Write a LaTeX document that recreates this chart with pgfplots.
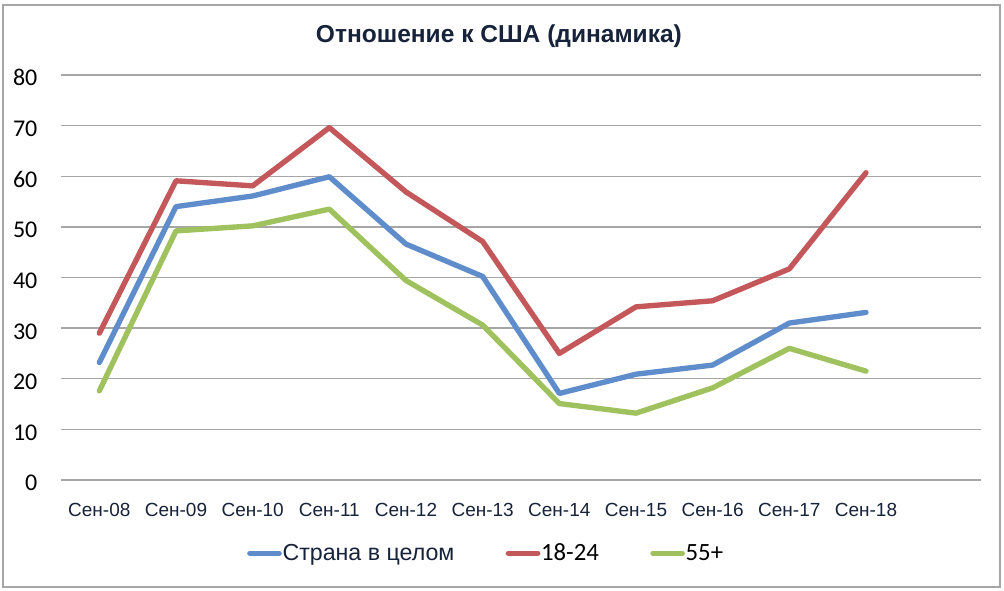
\documentclass[border=0pt]{standalone}
\usepackage{pgfplots}
\pgfplotsset{compat=1.18}
\usepackage{fontspec}
\setmainfont{Liberation Sans}
\newfontfamily\calibri{Carlito}
\definecolor{sblue}{HTML}{5F8DCB}
\definecolor{sred}{HTML}{C4575A}
\definecolor{sgreen}{HTML}{9FC15E}
\definecolor{navy}{HTML}{17233A}
\definecolor{gridc}{HTML}{A6A6A6}
\begin{document}
\begin{tikzpicture}
\useasboundingbox (0,0) rectangle (753pt,443.25pt);
\fill[white] (0,0) rectangle (753pt,443.25pt);
\draw[color=gridc, line width=0.9pt] (2.25pt,3pt) rectangle (750pt,439.5pt);
\begin{axis}[
  at={(45.75pt,83.25pt)}, anchor=south west,
  scale only axis, width=690pt, height=303.75pt,
  xmin=-0.5, xmax=11.5, ymin=0, ymax=80,
  xtick={0,...,10},
  xticklabels={Сен-08,Сен-09,Сен-10,Сен-11,Сен-12,Сен-13,Сен-14,Сен-15,Сен-16,Сен-17,Сен-18},
  ytick={0,10,...,80},
  /pgf/number format/assume math mode=true,
  axis line style={draw=none},
  major tick length=0pt,
  ymajorgrids, grid style={color=gridc, line width=1.1pt},
  xticklabel style={anchor=base, inner sep=0pt, yshift=-27.4pt, text=navy, font=\fontsize{14.25}{14.25}\selectfont},
  yticklabel style={anchor=base east, inner sep=0pt, xshift=-17.5pt, yshift=-8.2pt, text=black, font=\calibri\fontsize{18}{18}\selectfont},
  title={Отношение к США (динамика)},
  title style={at={(axis description cs:0.476,1.0617)}, anchor=base, inner sep=0pt, text=navy, font=\bfseries\fontsize{18.4}{18.4}\selectfont},
  legend columns=3,
  legend style={at={(axis description cs:0.4614,-0.181)}, anchor=center, draw=none, fill=none,
    nodes={inner sep=0.5pt}, font=\fontsize{17.4}{17.4}\selectfont},
  /tikz/every even column/.append style={column sep=38pt},
  legend image code/.code={\draw[#1, line cap=round] (0pt,0pt) -- (22pt,0pt);},
]
\addplot[color=sblue, line width=4pt, line join=round, line cap=round] coordinates {
(0,23.2) (1,54.0) (2,56.1) (3,59.9) (4,46.6) (5,40.2) (6,17.1) (7,20.9) (8,22.7) (9,31.0) (10,33.1)};
\addlegendentry{\textcolor{navy}{Страна в целом}}
\addplot[color=sred, line width=4pt, line join=round, line cap=round] coordinates {
(0,29.0) (1,59.1) (2,58.1) (3,69.6) (4,56.9) (5,47.1) (6,25.0) (7,34.2) (8,35.4) (9,41.7) (10,60.7)};
\addlegendentry{\calibri\fontsize{18.6}{18.6}\selectfont 18-24}
\addplot[color=sgreen, line width=4pt, line join=round, line cap=round] coordinates {
(0,17.6) (1,49.2) (2,50.2) (3,53.5) (4,39.4) (5,30.6) (6,15.1) (7,13.2) (8,18.2) (9,26.0) (10,21.5)};
\addlegendentry{\calibri\fontsize{18.6}{18.6}\selectfont 55+}
\end{axis}
\end{tikzpicture}
\end{document}
